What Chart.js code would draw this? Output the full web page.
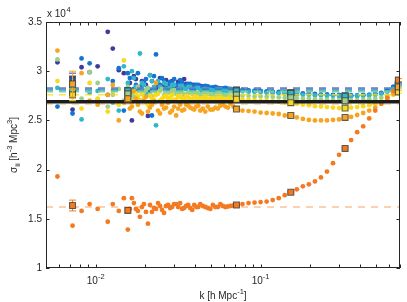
<!DOCTYPE html>
<html>
<head>
<meta charset="utf-8">
<script src="https://cdn.jsdelivr.net/npm/chart.js@4.4.0/dist/chart.umd.min.js"></script>
<style>
  html, body { margin: 0; padding: 0; background: #fff; }
  #wrap { width: 407px; height: 302px; }
</style>
</head>
<body>
<div id="wrap"><canvas id="sigma-chart" width="407" height="302"></canvas></div>
<script>
// k values [h/Mpc] shared by all series
const kGrid = [0.005866, 0.007242, 0.008216, 0.00919, 0.01028, 0.01184, 0.0127, 0.01381, 0.01482, 0.01567,
  0.01658, 0.01754, 0.01855, 0.01962, 0.02075, 0.02195, 0.02322, 0.02456, 0.02598, 0.02748,
  0.02907, 0.03075, 0.03252, 0.0344, 0.03639, 0.03849, 0.04072, 0.04307, 0.04618, 0.04955,
  0.05316, 0.05703, 0.06118, 0.06564, 0.07139, 0.07766, 0.08449, 0.0919, 0.1, 0.1088,
  0.1184, 0.1288, 0.1401, 0.1524, 0.1658, 0.1804, 0.1962, 0.2135, 0.2322, 0.2526,
  0.2748, 0.2989, 0.3252, 0.3538, 0.3849, 0.4187, 0.4555, 0.4955, 0.5391, 0.5864,
  0.638, 0.6845];
// extra k values between the ones above, where the band is dense
const kMid = [0.01612, 0.01705, 0.01804, 0.01908, 0.02018, 0.02135, 0.02258, 0.02388, 0.02526, 0.02672,
  0.02827, 0.0299, 0.03162, 0.03345, 0.03538, 0.03743, 0.03959, 0.04188, 0.0446, 0.04785,
  0.05133, 0.05507, 0.05906, 0.06336, 0.06845];

// sigma_ii in units of 1e4
const sNavy = [3.09, 2.61, 3.04, 2.99, 3.05, 3.40, 3.23, 3.01, 2.98, 2.78,
  2.50, 2.92, 2.84, 2.79, 2.545, 2.90, 2.83, 2.93, 2.86, 2.82,
  2.90, 2.85, 2.88, 2.92, 2.84, 2.86, 2.83, 2.85, 2.84, 2.83,
  2.835, 2.82, 2.825, 2.815, 2.81, 2.805, 2.80, 2.80, 2.795, 2.79,
  2.785, 2.78, 2.78, 2.775, 2.77, 2.77, 2.765, 2.76, 2.76, 2.755,
  2.755, 2.75, 2.75, 2.75, 2.75, 2.755, 2.76, 2.765, 2.775, 2.80,
  2.84, 2.90];
const sBlue = [2.64, 2.57, 3.13, 3.08, 2.70, 2.76, 2.90, 3.03, 2.60, 2.98,
  2.78, 2.86, 2.70, 2.88, 2.82, 2.55, 3.17, 2.86, 2.90, 2.84,
  2.88, 2.86, 2.91, 2.84, 2.87, 2.85, 2.86, 2.84, 2.85, 2.83,
  2.84, 2.825, 2.83, 2.82, 2.815, 2.81, 2.805, 2.80, 2.80, 2.795,
  2.79, 2.79, 2.785, 2.78, 2.78, 2.775, 2.77, 2.77, 2.765, 2.765,
  2.76, 2.76, 2.755, 2.755, 2.755, 2.76, 2.76, 2.77, 2.78, 2.80,
  2.84, 2.88];
const sCyan = [2.83, 2.76, 2.51, 2.78, 2.80, 2.92, 2.68, 2.60, 3.05, 2.88,
  3.00, 2.84, 3.18, 2.86, 2.77, 2.90, 2.45, 2.84, 2.88, 2.82,
  2.86, 2.80, 2.85, 2.82, 2.84, 2.81, 2.83, 2.80, 2.82, 2.81,
  2.80, 2.815, 2.80, 2.805, 2.80, 2.795, 2.79, 2.79, 2.785, 2.78,
  2.78, 2.775, 2.77, 2.77, 2.765, 2.76, 2.76, 2.755, 2.755, 2.75,
  2.75, 2.75, 2.745, 2.745, 2.75, 2.75, 2.755, 2.76, 2.77, 2.79,
  2.82, 2.86];
const sGreen = [3.12, 2.80, 2.72, 2.99, 2.88, 2.64, 2.76, 2.82, 2.70, 2.84,
  2.76, 2.73, 2.80, 2.78, 2.83, 2.75, 2.79, 2.80, 2.76, 2.78,
  2.80, 2.77, 2.79, 2.76, 2.78, 2.77, 2.78, 2.76, 2.77, 2.765,
  2.76, 2.765, 2.76, 2.755, 2.755, 2.75, 2.75, 2.745, 2.745, 2.74,
  2.74, 2.735, 2.73, 2.73, 2.725, 2.72, 2.72, 2.715, 2.71, 2.71,
  2.705, 2.705, 2.70, 2.705, 2.705, 2.71, 2.715, 2.72, 2.73, 2.75,
  2.78, 2.82];
const sYellow = [2.90, 2.74, 2.62, 2.88, 2.72, 2.59, 2.80, 2.66, 3.11, 2.72,
  2.68, 2.78, 2.70, 2.74, 2.66, 2.72, 2.76, 2.70, 2.74, 2.72,
  2.76, 2.71, 2.74, 2.72, 2.73, 2.71, 2.74, 2.72, 2.73, 2.72,
  2.72, 2.73, 2.71, 2.72, 2.715, 2.71, 2.71, 2.705, 2.70, 2.70,
  2.695, 2.69, 2.685, 2.68, 2.67, 2.66, 2.655, 2.645, 2.64, 2.635,
  2.63, 2.625, 2.625, 2.63, 2.635, 2.645, 2.655, 2.67, 2.69, 2.72,
  2.76, 2.80];
const sGold = [3.21, 2.89, 2.98, 2.70, 2.66, 2.76, 2.86, 2.50, 2.68, 2.76,
  2.64, 2.72, 2.59, 2.70, 2.59, 2.66, 2.88, 2.57, 2.62, 2.68,
  2.60, 2.55, 2.66, 2.61, 2.65, 2.62, 2.64, 2.60, 2.59, 2.61,
  2.63, 2.65, 2.64, 2.67, 2.62, 2.60, 2.595, 2.59, 2.58, 2.575,
  2.57, 2.565, 2.55, 2.545, 2.53, 2.515, 2.505, 2.50, 2.50, 2.50,
  2.505, 2.51, 2.52, 2.535, 2.555, 2.575, 2.60, 2.63, 2.67, 2.72,
  2.77, 2.83];
const sOrange = [1.93, 1.43, 1.58, 1.65, 1.60, 1.47, 1.65, 1.58, 1.71, 1.39,
  1.71, 1.60, 1.52, 1.65, 1.45, 1.57, 1.60, 1.63, 1.56, 1.64,
  1.62, 1.65, 1.66, 1.61, 1.64, 1.59, 1.62, 1.65, 1.62, 1.60,
  1.62, 1.65, 1.62, 1.63, 1.64, 1.65, 1.66, 1.665, 1.67, 1.675,
  1.69, 1.71, 1.74, 1.775, 1.80, 1.83, 1.85, 1.88, 1.92, 1.98,
  2.065, 2.15, 2.22, 2.30, 2.38, 2.44, 2.52, 2.60, 2.67, 2.73,
  2.80, 2.86];

// same series at kMid
const mNavy = [2.88, 2.95, 2.80, 2.90, 2.86, 2.96, 2.82, 2.88, 2.84, 2.91,
  2.86, 2.83, 2.89, 2.85, 2.87, 2.84, 2.86, 2.84, 2.845, 2.83,
  2.83, 2.825, 2.82, 2.82, 2.81];
const mBlue = [2.93, 2.82, 2.98, 2.85, 2.92, 2.80, 2.95, 2.87, 2.93, 2.85,
  2.89, 2.92, 2.86, 2.88, 2.85, 2.87, 2.85, 2.86, 2.84, 2.845,
  2.835, 2.83, 2.825, 2.82, 2.815];
const mCyan = [2.80, 2.93, 2.83, 2.88, 2.78, 2.96, 2.84, 2.90, 2.82, 2.87,
  2.83, 2.86, 2.81, 2.85, 2.82, 2.84, 2.81, 2.83, 2.81, 2.815,
  2.805, 2.81, 2.80, 2.80, 2.80];
const mGreen = [2.79, 2.74, 2.84, 2.77, 2.81, 2.76, 2.80, 2.78, 2.82, 2.77,
  2.79, 2.81, 2.78, 2.79, 2.77, 2.785, 2.77, 2.78, 2.765, 2.77,
  2.76, 2.765, 2.76, 2.755, 2.755];
const mYellow = [2.76, 2.70, 2.74, 2.78, 2.68, 2.75, 2.71, 2.77, 2.72, 2.75,
  2.73, 2.71, 2.74, 2.72, 2.75, 2.72, 2.73, 2.715, 2.725, 2.72,
  2.725, 2.715, 2.72, 2.72, 2.715];
const mGold = [2.62, 2.80, 2.66, 2.57, 2.74, 2.63, 2.69, 2.60, 2.66, 2.63,
  2.58, 2.64, 2.62, 2.60, 2.66, 2.63, 2.61, 2.65, 2.62, 2.64,
  2.61, 2.62, 2.66, 2.63, 2.64];
const mOrange = [1.60, 1.66, 1.58, 1.62, 1.57, 1.64, 1.61, 1.66, 1.59, 1.63,
  1.61, 1.65, 1.62, 1.60, 1.63, 1.61, 1.64, 1.62, 1.63, 1.61,
  1.64, 1.62, 1.63, 1.625, 1.635];

// binned averages (squares with error bars)
const binK = [0.00724, 0.01567, 0.07139, 0.1524, 0.3252, 0.6845];
const binNavy = [2.92, 2.80, 2.805, 2.78, 2.745, 2.87];
const binBlue = [2.86, 2.79, 2.81, 2.78, 2.75, 2.87];
const binCyan = [2.83, 2.80, 2.80, 2.775, 2.745, 2.86];
const binGreen = [2.79, 2.77, 2.76, 2.73, 2.70, 2.82];
const binYellow = [2.76, 2.72, 2.715, 2.68, 2.625, 2.79];
const binGold = [2.87, 2.72, 2.615, 2.55, 2.53, 2.84];
const binOrange = [1.635, 1.585, 1.64, 1.77, 2.215, 2.91];
const errSmall = [0.06, 0.02, 0.008, 0.008, 0.008, 0.012];
const errGold = [0.13, 0.03, 0.008, 0.008, 0.008, 0.012];
const errOrange = [0.055, 0.015, 0.008, 0.008, 0.01, 0.015];

// shot-noise levels (dashed) and the thick black reference
const meanLevels = { navy: 2.83, blue: 2.815, cyan: 2.80, green: 2.79, yellow: 2.76, gold: 2.665, orange: 1.62 };
const blackLevel = 2.69;

const yTickVals = [1, 1.5, 2, 2.5, 3, 3.5];
const xMajorTicks = [0.01, 0.1];
const xMinorTicks = [0.006, 0.007, 0.008, 0.009, 0.02, 0.03, 0.04, 0.05, 0.06, 0.07, 0.08, 0.09,
  0.2, 0.3, 0.4, 0.5, 0.6, 0.7];

const COLORS = {
  navy: '#3e3c98', blue: '#1673d3', cyan: '#32b6ca', green: '#9bd08b',
  yellow: '#f8d91c', gold: '#f7a520', orange: '#f47a22'
};
const DASH_COLORS = {
  navy: 'rgba(120,130,175,0.8)', blue: 'rgba(22,115,211,0.7)', cyan: 'rgba(50,182,202,0.85)',
  green: 'rgba(155,208,139,0.7)', yellow: 'rgba(248,217,28,0.75)', gold: 'rgba(247,165,32,0.4)',
  orange: 'rgba(244,122,34,0.35)'
};
const FONT = '"Liberation Sans", Arial, sans-serif';
const X_MIN = 0.005, X_MAX = 0.7;

function pts(ks, ys) {
  return ks.map((k, i) => ({ x: k, y: ys[i] }));
}

const seriesList = [
  ['navy', sNavy, mNavy, binNavy, errSmall],
  ['blue', sBlue, mBlue, binBlue, errSmall],
  ['cyan', sCyan, mCyan, binCyan, errSmall],
  ['green', sGreen, mGreen, binGreen, errSmall],
  ['yellow', sYellow, mYellow, binYellow, errSmall],
  ['gold', sGold, mGold, binGold, errGold],
  ['orange', sOrange, mOrange, binOrange, errOrange]
];

const datasets = [];
seriesList.forEach(([name, ys, ms], i) => {
  datasets.push({
    data: pts(kGrid, ys).concat(pts(kMid, ms)),
    backgroundColor: COLORS[name],
    pointRadius: 2.4,
    pointBorderWidth: 0,
    showLine: false,
    order: 40 - i
  });
});
seriesList.forEach(([name], i) => {
  datasets.push({
    data: [{ x: X_MIN, y: meanLevels[name] }, { x: X_MAX, y: meanLevels[name] }],
    borderColor: DASH_COLORS[name],
    borderWidth: name === 'yellow' || name === 'gold' ? 1.5 : 2,
    borderDash: [7, 6],
    pointRadius: 0,
    showLine: true,
    order: 30 - i
  });
});
datasets.push({
  data: [{ x: X_MIN, y: blackLevel }, { x: X_MAX, y: blackLevel }],
  borderColor: '#1c1c1c',
  borderWidth: 3.5,
  pointRadius: 0,
  showLine: true,
  order: 15
});
seriesList.forEach(([name, , , bins, errs], i) => {
  datasets.push({
    data: pts(binK, bins),
    errs: errs,
    barColor: COLORS[name],
    pointStyle: 'rect',
    pointRadius: 4.2,
    backgroundColor: COLORS[name],
    borderColor: 'rgba(70,70,70,0.85)',
    pointBorderWidth: 1.1,
    showLine: false,
    order: 10 - i
  });
});

const errorBarsPlugin = {
  id: 'errorBars',
  beforeDatasetDraw(chart, args) {
    const ds = chart.data.datasets[args.index];
    if (!ds.errs) return;
    const { ctx, scales: { x, y } } = chart;
    ctx.save();
    ctx.strokeStyle = ds.barColor;
    ctx.lineWidth = 1;
    ds.data.forEach((p, i) => {
      const px = x.getPixelForValue(p.x);
      const top = y.getPixelForValue(p.y + ds.errs[i]);
      const bot = y.getPixelForValue(p.y - ds.errs[i]);
      ctx.beginPath();
      ctx.moveTo(px, top); ctx.lineTo(px, bot);
      ctx.moveTo(px - 3.5, top); ctx.lineTo(px + 3.5, top);
      ctx.moveTo(px - 3.5, bot); ctx.lineTo(px + 3.5, bot);
      ctx.stroke();
    });
    ctx.restore();
  }
};

// text with super/subscripts: parts = [[text, 0|1|-1], ...]
function drawRich(ctx, parts, cx, baseY) {
  const widths = parts.map(([t, s]) => {
    ctx.font = (s ? 7.5 : 10) + 'px ' + FONT;
    return ctx.measureText(t).width;
  });
  let x = cx - widths.reduce((a, b) => a + b, 0) / 2;
  parts.forEach(([t, s], i) => {
    ctx.font = (s ? 7.5 : 10) + 'px ' + FONT;
    ctx.fillText(t, x, baseY + (s === 1 ? -5 : s === -1 ? 3 : 0));
    x += widths[i];
  });
}

const matlabAxesPlugin = {
  id: 'matlabAxes',
  afterDraw(chart) {
    const { ctx, chartArea: a, scales: { x, y } } = chart;
    ctx.save();
    ctx.strokeStyle = '#262626';
    ctx.lineWidth = 1;
    ctx.strokeRect(a.left + 0.5, a.top + 0.5, a.right - a.left - 1, a.bottom - a.top - 1);

    const tl = 3.5;
    ctx.beginPath();
    yTickVals.forEach(v => {
      const py = Math.round(y.getPixelForValue(v)) + 0.5;
      ctx.moveTo(a.left, py); ctx.lineTo(a.left + tl, py);
      ctx.moveTo(a.right, py); ctx.lineTo(a.right - tl, py);
    });
    xMajorTicks.concat(xMinorTicks).forEach(v => {
      const px = Math.round(x.getPixelForValue(v)) + 0.5;
      ctx.moveTo(px, a.bottom); ctx.lineTo(px, a.bottom - tl);
      ctx.moveTo(px, a.top); ctx.lineTo(px, a.top + tl);
    });
    ctx.stroke();

    ctx.fillStyle = '#262626';
    ctx.textAlign = 'left';
    ctx.textBaseline = 'alphabetic';
    drawRich(ctx, [['10', 0], ['-2', 1]], x.getPixelForValue(0.01), 284);
    drawRich(ctx, [['10', 0], ['-1', 1]], x.getPixelForValue(0.1), 284);
    drawRich(ctx, [['k [h Mpc', 0], ['-1', 1], [']', 0]], (a.left + a.right) / 2, 299);

    // exponent label above the y axis
    ctx.font = '10px ' + FONT;
    ctx.fillText('x 10', a.left + 1, 17);
    const w = ctx.measureText('x 10').width;
    ctx.font = '7.5px ' + FONT;
    ctx.fillText('4', a.left + 1 + w + 0.5, 11.5);

    ctx.translate(17, (a.top + a.bottom) / 2);
    ctx.rotate(-Math.PI / 2);
    drawRich(ctx, [['\u03c3', 0], ['ii', -1], [' [h', 0], ['-3', 1], [' Mpc', 0], ['3', 1], [']', 0]], 0, 0);
    ctx.restore();
  }
};

new Chart(document.getElementById('sigma-chart'), {
  type: 'scatter',
  data: { datasets: datasets },
  options: {
    responsive: false,
    animation: false,
    devicePixelRatio: 1,
    layout: { padding: { top: 22, right: 7, left: 0, bottom: 0 } },
    plugins: { legend: { display: false }, tooltip: { enabled: false } },
    scales: {
      x: {
        type: 'logarithmic',
        min: X_MIN,
        max: X_MAX,
        ticks: { display: false },
        grid: { display: false, drawTicks: false },
        border: { display: false },
        afterFit(scale) { scale.height = 34; }
      },
      y: {
        type: 'linear',
        min: 1,
        max: 3.5,
        ticks: {
          stepSize: 0.5,
          padding: 4,
          color: '#262626',
          font: { family: FONT, size: 10 },
          callback: v => String(v)
        },
        grid: { display: false, drawTicks: false },
        border: { display: false },
        afterFit(scale) { scale.width = 46; }
      }
    }
  },
  plugins: [errorBarsPlugin, matlabAxesPlugin]
});
</script>
</body>
</html>
